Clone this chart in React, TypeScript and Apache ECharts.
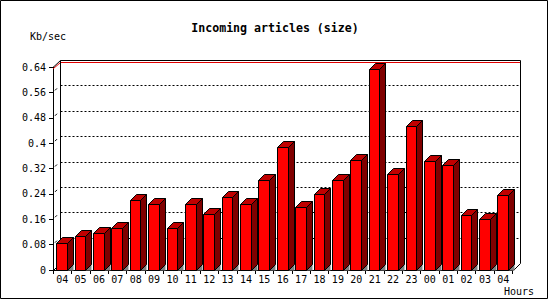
import React, { useEffect, useRef } from "react";
import * as echarts from "echarts";

const hours = ["04","05","06","07","08","09","10","11","12","13","14","15","16","17","18","19","20","21","22","23","00","01","02","03","04"];
const kbPerSec = [0.084,0.107,0.116,0.131,0.220,0.207,0.131,0.207,0.176,0.229,0.207,0.283,0.388,0.200,0.239,0.283,0.346,0.634,0.302,0.454,0.343,0.331,0.172,0.160,0.236];
const yTickLabels = ["0","0.08","0.16","0.24","0.32","0.4","0.48","0.56","0.64"];
const yMax = 0.64;
const yStep = 0.08;

const MONO = "'DejaVu Sans Mono', 'Liberation Mono', monospace";

export default function App() {
  const ref = useRef<HTMLDivElement>(null);
  useEffect(() => {
    if (!ref.current) return;
    const chart = echarts.init(ref.current, null, { renderer: "svg" });
    const peak = Math.max(...kbPerSec);
    const D = 7; // back-plane depth
    const d = 6; // bar depth
    const r = (x: number) => Math.round(x) + 0.5;

    const frameRender = (params: any, api: any) => {
      const cs = params.coordSys;
      const xl = cs.x, xr = cs.x + cs.width;
      const ys = (v: number) => api.coord([0, v])[1];
      const children: any[] = [];
      const blk = { stroke: "#000", lineWidth: 1, fill: null };
      for (let k = 1; k < yTickLabels.length - 1; k++) {
        const y = r(ys(k * yStep) - D);
        children.push({ type: "line", shape: { x1: r(xl + D), y1: y, x2: r(xr + D), y2: y }, style: { stroke: "#000", lineWidth: 1, lineDash: [2, 2] } });
        const yf = ys(k * yStep);
        children.push({ type: "line", shape: { x1: xl + 2, y1: yf - 2, x2: xl + 4, y2: yf - 4 }, style: { stroke: "#000", lineWidth: 1 } });
      }
      const yTopF = ys(yMax), yTopB = r(ys(yMax) - D);
      const y0F = ys(0), y0B = ys(0) - D;
      const yp = ys(peak);
      children.push({ type: "polyline", shape: { points: [[xl, yp], [r(xl + D), r(yp - D)], [r(xr + D), r(yp - D)]] }, style: { stroke: "#e00000", lineWidth: 1, fill: null } });
      children.push({ type: "polyline", shape: { points: [[r(xl), yTopF], [r(xl + D), yTopB], [r(xr + D), yTopB], [r(xr + D), r(y0B)], [r(xr), r(y0F)]] }, style: blk });
      children.push({ type: "line", shape: { x1: r(xl + D), y1: yTopB, x2: r(xl + D), y2: r(y0B) }, style: blk });
      children.push({ type: "line", shape: { x1: r(xl), y1: r(y0F), x2: r(xl + D), y2: r(y0B) }, style: blk });
      return { type: "group", children };
    };

    const barRender = (params: any, api: any) => {
      const i = api.value(0);
      const v = api.value(1);
      const top = api.coord([i, v]);
      const base = api.coord([i, 0]);
      const bw = api.size([1, 0])[0];
      const x0 = r(top[0] - 0.32 * bw);
      const x1 = r(top[0] - 0.32 * bw + 0.58 * bw);
      const yt = r(top[1]);
      const yb = r(base[1]);
      return {
        type: "group",
        children: [
          { type: "polygon", shape: { points: [[x1, yb], [x1 + d, yb - d], [x1 + d, yb]] }, style: { fill: "#808080" } },
          { type: "polygon", shape: { points: [[x1, yt], [x1 + d, yt - d], [x1 + d, yb - d], [x1, yb]] }, style: { fill: "#800000", stroke: "#000", lineWidth: 1 } },
          { type: "polygon", shape: { points: [[x0, yt], [x0 + d, yt - d], [x1 + d, yt - d], [x1, yt]] }, style: { fill: "#c00000", stroke: "#000", lineWidth: 1 } },
          { type: "rect", shape: { x: x0, y: yt, width: x1 - x0, height: yb - yt }, style: { fill: "#ff0000", stroke: "#000", lineWidth: 1 } },
        ],
      };
    };

    chart.setOption({
      animation: false,
      backgroundColor: "#fff",
      title: {
        text: "Incoming articles (size)",
        left: "center",
        top: 17,
        textStyle: { fontFamily: MONO, fontSize: 11.6, fontWeight: "bold", color: "#000" },
      },
      grid: { left: 53, right: 37.5, top: 67, bottom: 30 },
      xAxis: {
        type: "category",
        data: hours,
        boundaryGap: true,
        axisLine: { lineStyle: { color: "#000", width: 1 } },
        axisTick: { show: true, length: 4, lineStyle: { color: "#000" } },
        axisLabel: { fontFamily: MONO, fontSize: 10, color: "#000", margin: 4, interval: 0 },
        splitLine: { show: false },
      },
      yAxis: {
        type: "value",
        min: 0,
        max: yMax,
        interval: yStep,
        axisLine: { show: true, lineStyle: { color: "#000", width: 1 } },
        axisTick: { show: true, length: 4, lineStyle: { color: "#000" } },
        axisLabel: {
          fontFamily: MONO, fontSize: 10, color: "#000", margin: 7,
          formatter: (val: number) => yTickLabels[Math.round(val / yStep)] ?? "",
        },
        splitLine: { show: false },
      },
      graphic: [
        { type: "rect", shape: { x: 0.5, y: 0.5, width: 547, height: 298 }, style: { fill: null, stroke: "#000", lineWidth: 1 }, silent: true },
        { type: "text", left: 30, top: 31, style: { text: "Kb/sec", fontFamily: MONO, fontSize: 10, fill: "#000" } },
        { type: "text", left: 504, top: 286, style: { text: "Hours", fontFamily: MONO, fontSize: 10, fill: "#000" } },
      ],
      series: [
        { type: "custom", name: "frame", data: [[0, 0]], renderItem: frameRender, silent: true, z: 1 },
        { type: "custom", name: "size", data: kbPerSec.map((v, i) => [i, v]), renderItem: barRender, z: 3 },
      ],
    });
    return () => chart.dispose();
  }, []);
  return <div ref={ref} style={{ position: "fixed", left: 0, top: 0, width: 550, height: 300 }} />;
}
